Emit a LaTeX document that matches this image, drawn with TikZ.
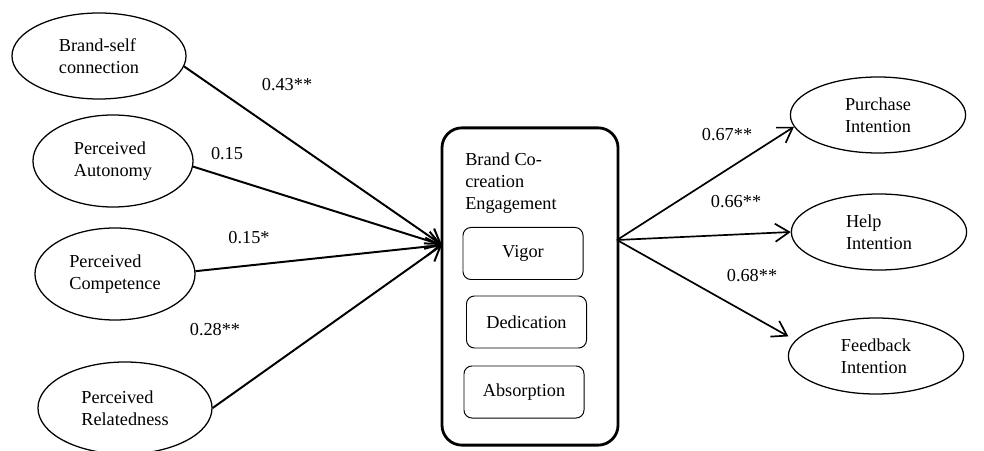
\documentclass[tikz,border=0pt]{standalone}
\usepackage{fontspec}
\setmainfont{Liberation Serif}
\usetikzlibrary{shapes,arrows.meta,positioning,calc}

\begin{document}
\begin{tikzpicture}[x=0.025cm, y=-0.025cm,
  every node/.style={font=\fontsize{13}{15.5}\selectfont},
  construct/.style={draw, ellipse, line width=0.9pt, inner sep=0pt, align=left},
  facet/.style={draw, rectangle, rounded corners=0.2cm, line width=0.7pt, minimum width=3cm, minimum height=1.3cm},
  link/.style={line width=1.4pt, -{Straight Barb[length=3.5mm,width=4.5mm]}}]
\useasboundingbox (0,0) rectangle (984,451);

% Antecedents
\node[construct, minimum width=4.35cm, minimum height=2.15cm] (brandself) at (99,56) {Brand-self\\connection};
\node[construct, minimum width=4cm, minimum height=2.3cm] (autonomy) at (113,161) {Perceived\\Autonomy};
\node[construct, minimum width=4cm, minimum height=2.3cm] (competence) at (115,274) {Perceived\\Competence};
\node[construct, minimum width=4.35cm, minimum height=2.3cm] (relatedness) at (125,408) {Perceived\\Relatedness};

% Brand co-creation engagement
\node[draw, rectangle, rounded corners=0.5cm, line width=2pt, minimum width=4.4cm, minimum height=7.93cm] (engage) at (530,286.5) {};
\node[inner sep=0pt, align=left, anchor=north west] (engage-title) at (465,153) {Brand Co-\\creation\\Engagement};
\node[facet] (vigor) at (523,253.5) {Vigor};
\node[facet] (dedication) at (526.5,322) {Dedication};
\node[facet] (absorption) at (524,392) {Absorption};
\coordinate (in) at (442,245);
\coordinate (out) at (617,240);

% Outcomes
\node[construct, minimum width=4.38cm, minimum height=1.9cm] (purchase) at (878,115) {Purchase\\Intention};
\node[construct, minimum width=4.38cm, minimum height=1.9cm] (help) at (879,232) {Help\\Intention};
\node[construct, minimum width=4.38cm, minimum height=1.9cm] (feedback) at (876,356) {Feedback\\Intention};

% Paths
\draw[link] (brandself.-7) -- (in);
\draw[link] (autonomy.-4) -- (in);
\draw[link] (competence.2) -- (in);
\draw[link] (relatedness.east) -- (in);
\draw[link, line width=1.2pt] (out) -- (purchase.188);
\draw[link, line width=1.2pt] (out) -- (help.west);
\draw[link, line width=1.2pt, shorten >=2mm] (out) -- (feedback.169);

% Coefficients
\node (w-brandself) at (287,85) {0.43**};
\node (w-autonomy) at (227,154) {0.15};
\node (w-competence) at (249,238) {0.15*};
\node (w-relatedness) at (215,330) {0.28**};
\node (w-purchase) at (727,135) {0.67**};
\node (w-help) at (736,202) {0.66**};
\node (w-feedback) at (752,276) {0.68**};

\end{tikzpicture}
\end{document}
